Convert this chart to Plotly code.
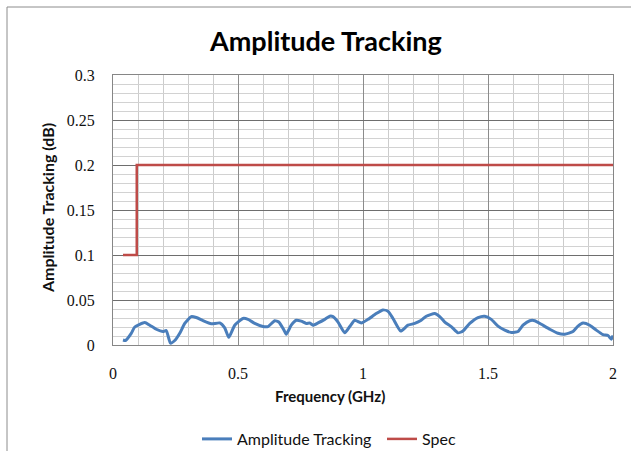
import plotly.graph_objects as go

# ---- data ----
freq_ghz = [0.04, 0.05, 0.073, 0.087, 0.127, 0.147, 0.173, 0.2, 0.213, 0.23, 0.247, 0.267, 0.287,
            0.313, 0.333, 0.36, 0.393, 0.427, 0.447, 0.463, 0.487, 0.52, 0.54, 0.567, 0.6, 0.62,
            0.647, 0.663, 0.683, 0.693, 0.713, 0.733, 0.753, 0.773, 0.787, 0.8, 0.82, 0.847, 0.867,
            0.88, 0.9, 0.927, 0.947, 0.967, 0.993, 1.02, 1.053, 1.08, 1.1, 1.12, 1.151, 1.18, 1.207,
            1.233, 1.253, 1.287, 1.307, 1.327, 1.353, 1.38, 1.4, 1.427, 1.46, 1.487, 1.513, 1.54,
            1.567, 1.593, 1.62, 1.64, 1.667, 1.687, 1.713, 1.747, 1.78, 1.807, 1.84, 1.86, 1.88,
            1.907, 1.933, 1.96, 1.98, 1.993, 2.0]
amp_tracking_db = [0.0055, 0.005, 0.013, 0.020, 0.025, 0.022, 0.0175, 0.015, 0.016, 0.002, 0.005,
                   0.013, 0.024, 0.0315, 0.0305, 0.027, 0.0235, 0.0245, 0.019, 0.0085, 0.022,
                   0.0295, 0.0285, 0.024, 0.0205, 0.0205, 0.027, 0.0255, 0.017, 0.012, 0.022,
                   0.0275, 0.0265, 0.024, 0.0245, 0.022, 0.0245, 0.0285, 0.032, 0.0315, 0.0255,
                   0.0135, 0.0205, 0.0275, 0.0245, 0.0285, 0.035, 0.039, 0.0375, 0.0295, 0.0155,
                   0.022, 0.024, 0.0275, 0.032, 0.035, 0.0315, 0.0255, 0.0205, 0.0135, 0.0155,
                   0.024, 0.0305, 0.032, 0.0285, 0.021, 0.0165, 0.014, 0.015, 0.022, 0.027, 0.027,
                   0.023, 0.0175, 0.013, 0.012, 0.015, 0.021, 0.0245, 0.022, 0.0165, 0.0115,
                   0.0105, 0.0065, 0.0105]
spec_freq_ghz = [0.04, 0.095, 0.095, 2.0]
spec_db = [0.1, 0.1, 0.2, 0.2]

x_ticks = [0, 0.5, 1, 1.5, 2]
x_tick_labels = ["0", "0.5", "1", "1.5", "2"]
y_ticks = [0, 0.05, 0.1, 0.15, 0.2, 0.25, 0.3]
y_tick_labels = ["0", "0.05", "0.1", "0.15", "0.2", "0.25", "0.3"]

# ---- figure ----
W, H = 631, 451
L, R, T, B = 113, 18, 75, 106
pw, ph = W - L - R, H - T - B

def px(xp):
    return (xp - L) / pw

def py(yp):
    return (H - B - yp) / ph

fig = go.Figure()
fig.add_trace(go.Scatter(x=freq_ghz, y=amp_tracking_db, mode="lines", name="Amplitude Tracking",
                         line=dict(color="#4a7ebb", width=3, shape="spline", smoothing=0.5)))
fig.add_trace(go.Scatter(x=spec_freq_ghz, y=spec_db, mode="lines", name="Spec",
                         line=dict(color="#be4b48", width=2.5)))

sans = "Lato, 'Open Sans', sans-serif"
serif = "'Liberation Serif', 'DejaVu Serif', serif"

fig.update_layout(
    width=W, height=H,
    margin=dict(l=L, r=R, t=T, b=B, autoexpand=False),
    paper_bgcolor="white", plot_bgcolor="white",
    showlegend=True,
    legend=dict(orientation="h", x=px(197), y=py(422), xanchor="left", yanchor="top",
                font=dict(family=sans, size=16, color="#111"), itemwidth=30,
                entrywidth=140, entrywidthmode="pixels",
                tracegroupgap=0, bgcolor="rgba(0,0,0,0)"),
    xaxis=dict(range=[0, 2], tickvals=x_ticks, ticktext=x_tick_labels,
               showgrid=True, gridcolor="#8c8c8c", gridwidth=1,
               minor=dict(dtick=0.1, tick0=0, showgrid=True, gridcolor="#cccccc", gridwidth=1),
               showline=True, linecolor="#868686", linewidth=1, mirror=True,
               zeroline=False, ticks="", tickfont=dict(family=serif, size=16, color="#111"),
               ticklabelstandoff=14),
    yaxis=dict(range=[0, 0.3], tickvals=y_ticks, ticktext=y_tick_labels,
               showgrid=True, gridcolor="#6e6e6e", gridwidth=1,
               minor=dict(dtick=0.01, tick0=0, showgrid=True, gridcolor="#d2d2d2", gridwidth=1),
               showline=True, linecolor="#868686", linewidth=1, mirror=True,
               zeroline=False, ticks="", tickfont=dict(family=serif, size=16, color="#111"),
               ticklabelstandoff=14),
    annotations=[
        dict(text="<b>Amplitude Tracking</b>", xref="paper", yref="paper", x=px(325), y=py(40),
             xanchor="center", yanchor="middle", showarrow=False,
             font=dict(family=sans, size=27, color="#000")),
        dict(text="<b>Frequency (GHz)</b>", xref="paper", yref="paper", x=px(330), y=py(396),
             xanchor="center", yanchor="middle", showarrow=False,
             font=dict(family=sans, size=15, color="#111")),
        dict(text="<b>Amplitude Tracking (dB)</b>", xref="paper", yref="paper", x=px(47), y=py(208),
             xanchor="center", yanchor="middle", showarrow=False, textangle=-90,
             font=dict(family=sans, size=16, color="#111")),
    ],
    shapes=[
        dict(type="line", xref="paper", yref="paper", x0=px(7), x1=px(7), y0=py(7), y1=py(H + 5),
             line=dict(color="#8c8c8c", width=1)),
        dict(type="line", xref="paper", yref="paper", x0=px(7), x1=px(W + 5), y0=py(7), y1=py(7),
             line=dict(color="#8c8c8c", width=1)),
    ],
)

fig.write_html("out.html", config={"displayModeBar": False},
               post_script="document.body.style.margin='0';")
